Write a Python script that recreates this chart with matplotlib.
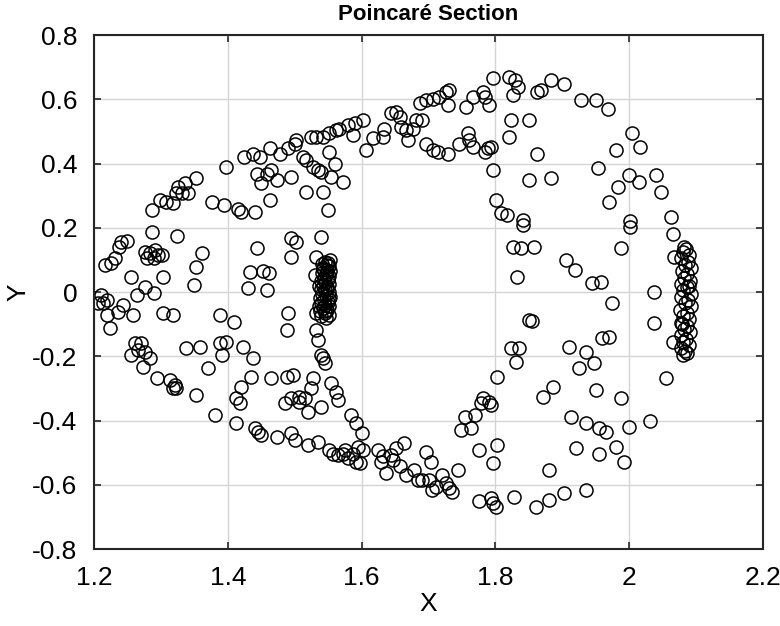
import matplotlib.pyplot as plt

# Poincare section points (scattered part of the orbit)
x_pts = [
    1.286, 1.324, 1.241, 1.249, 1.238, 1.276, 1.284, 1.291, 1.296, 1.301, 1.289, 1.279,
    1.361, 1.352, 1.350, 1.216, 1.226, 1.231, 1.256, 1.303, 1.276, 1.289, 1.264,
    1.211, 1.219, 1.214, 1.206, 1.244, 1.236, 1.219, 1.224, 1.259, 1.303, 1.318,
    1.388, 1.410, 1.261, 1.271, 1.266, 1.256, 1.276, 1.284, 1.274, 1.294,
    1.313, 1.321, 1.318, 1.323, 1.352, 1.338, 1.358, 1.371, 1.388, 1.398, 1.391,
    1.423, 1.438, 1.435, 1.420, 1.413, 1.443, 1.433, 1.430,
    1.397, 1.425, 1.438, 1.448, 1.443, 1.450, 1.353, 1.326, 1.336, 1.341, 1.331, 1.323,
    1.299, 1.308, 1.318, 1.286, 1.376, 1.395, 1.415, 1.420, 1.440,
    1.463, 1.465, 1.458, 1.473, 1.463, 1.478, 1.494, 1.517, 1.542, 1.550,
    1.490, 1.502, 1.500, 1.525, 1.532, 1.542, 1.552, 1.562, 1.567, 1.580, 1.590, 1.602,
    1.512, 1.517, 1.527, 1.535, 1.540, 1.552, 1.560, 1.555, 1.572,
    1.587, 1.607, 1.617, 1.632, 1.634, 1.644, 1.652, 1.657, 1.659, 1.667, 1.669, 1.677,
    1.682, 1.691, 1.687, 1.697, 1.707, 1.697, 1.707,
    1.716, 1.726, 1.731, 1.729, 1.756, 1.766, 1.781, 1.784, 1.791, 1.796, 1.821, 1.829,
    1.834, 1.826, 1.863, 1.868, 1.883, 1.903, 1.928, 1.950,
    1.714, 1.729, 1.746, 1.759, 1.761, 1.766, 1.784, 1.789, 1.794,
    1.823, 1.851, 1.821, 1.863, 1.796, 1.851, 1.883, 1.953, 1.801, 1.808, 1.818, 1.841,
    1.968, 2.005, 2.017, 1.980, 2.000, 2.015, 2.040, 2.047, 1.983, 1.970, 2.062,
    1.452, 1.462, 1.458, 1.495, 1.502, 1.495, 1.540, 1.532, 1.530, 1.490, 1.488,
    1.532, 1.532, 1.535, 1.540, 1.545, 1.542, 1.465, 1.488, 1.497, 1.527, 1.525,
    1.555, 1.562, 1.495, 1.507, 1.515,
    1.841, 1.826, 1.838, 1.858, 1.833, 1.906, 1.919, 1.945, 1.958, 1.851, 1.855,
    1.823, 1.836, 1.831, 1.803, 1.781, 1.791, 1.910, 1.935, 1.948, 1.925, 1.950,
    1.886, 1.871, 1.960,
    2.002, 2.002, 2.065, 1.988, 1.975, 2.037, 2.037, 1.970, 2.055, 1.988, 2.065, 2.067,
    1.381, 1.418, 1.413, 1.440, 1.445, 1.450,
    1.473, 1.495, 1.500, 1.520, 1.535, 1.552, 1.557, 1.565, 1.572, 1.575, 1.580, 1.587,
    1.592, 1.597, 1.594, 1.485, 1.507, 1.520, 1.540, 1.565, 1.585, 1.592, 1.600,
    1.602, 1.624, 1.629, 1.637, 1.644, 1.652, 1.664, 1.657, 1.667, 1.679, 1.684, 1.691,
    1.696, 1.704, 1.706, 1.632, 1.647,
    1.779, 1.793, 1.754, 1.769, 1.749, 1.764, 1.721, 1.711, 1.726, 1.731, 1.736, 1.744,
    1.701, 1.776, 1.803, 1.796, 1.776, 1.793, 1.796, 1.801, 1.828, 1.861, 1.881, 1.903,
    1.935, 1.881, 1.913, 1.935, 1.955, 1.920, 1.955,
    1.965, 1.980, 1.993, 2.000, 2.032,
]
y_pts = [
    0.188, 0.175, 0.156, 0.159, 0.141, 0.125, 0.120, 0.131, 0.115, 0.115, 0.105, 0.105,
    0.123, 0.079, 0.022, 0.084, 0.089, 0.105, 0.048, 0.048, 0.017, -0.004, -0.009,
    -0.009, -0.025, -0.035, -0.035, -0.040, -0.061, -0.072, -0.113, -0.072, -0.066, -0.072,
    -0.072, -0.092, -0.160, -0.160, -0.180, -0.196, -0.186, -0.206, -0.232, -0.268,
    -0.274, -0.289, -0.300, -0.300, -0.320, -0.175, -0.170, -0.237, -0.160, -0.155, -0.196,
    -0.170, -0.206, -0.263, -0.295, -0.331, 0.136, 0.063, 0.012,
    0.390, 0.421, 0.431, 0.421, 0.369, 0.338, 0.354, 0.328, 0.338, 0.307, 0.307, 0.307,
    0.286, 0.281, 0.276, 0.255, 0.281, 0.271, 0.260, 0.250, 0.250,
    0.447, 0.379, 0.369, 0.348, 0.286, 0.431, 0.358, 0.311, 0.311, 0.255,
    0.447, 0.473, 0.462, 0.483, 0.483, 0.483, 0.494, 0.504, 0.509, 0.519, 0.525, 0.535,
    0.421, 0.410, 0.390, 0.379, 0.374, 0.436, 0.400, 0.358, 0.343,
    0.488, 0.442, 0.478, 0.483, 0.509, 0.556, 0.561, 0.545, 0.514, 0.504, 0.473, 0.509,
    0.535, 0.535, 0.587, 0.597, 0.602, 0.462, 0.442,
    0.608, 0.624, 0.630, 0.582, 0.576, 0.608, 0.624, 0.608, 0.582, 0.665, 0.670, 0.660,
    0.639, 0.613, 0.624, 0.630, 0.660, 0.649, 0.597, 0.597,
    0.436, 0.431, 0.462, 0.494, 0.473, 0.452, 0.436, 0.447, 0.452,
    0.535, 0.535, 0.483, 0.431, 0.379, 0.348, 0.354, 0.385, 0.286, 0.245, 0.240, 0.224,
    0.571, 0.494, 0.452, 0.442, 0.364, 0.343, 0.364, 0.311, 0.328, 0.281, 0.234,
    0.065, 0.060, 0.006, 0.167, 0.156, 0.110, 0.172, 0.110, 0.053, -0.066, -0.118,
    -0.066, -0.118, -0.149, -0.196, -0.222, -0.206, -0.268, -0.263, -0.258, -0.268, -0.300,
    -0.284, -0.310, -0.331, -0.326, -0.331,
    0.208, 0.141, 0.136, 0.141, 0.048, 0.100, 0.068, 0.027, 0.032, -0.087, -0.090,
    -0.175, -0.175, -0.217, -0.263, -0.331, -0.341, -0.170, -0.186, -0.222, -0.237, -0.305,
    -0.295, -0.326, -0.144,
    0.222, 0.203, 0.182, 0.136, -0.035, 0.001, -0.097, -0.139, -0.268, -0.331, -0.155, 0.110,
    -0.383, -0.346, -0.408, -0.424, -0.435, -0.445,
    -0.450, -0.440, -0.461, -0.476, -0.466, -0.492, -0.503, -0.508, -0.503, -0.492, -0.518, -0.503,
    -0.528, -0.533, -0.481, -0.346, -0.341, -0.372, -0.357, -0.336, -0.383, -0.408, -0.439,
    -0.492, -0.492, -0.528, -0.564, -0.507, -0.486, -0.470, -0.543, -0.570, -0.554, -0.585, -0.585,
    -0.497, -0.528, -0.616, -0.512, -0.523,
    -0.346, -0.352, -0.388, -0.383, -0.429, -0.424, -0.570, -0.606, -0.596, -0.611, -0.622, -0.554,
    -0.585, -0.492, -0.476, -0.533, -0.652, -0.641, -0.657, -0.668, -0.637, -0.668, -0.647, -0.627,
    -0.616, -0.554, -0.388, -0.408, -0.424, -0.486, -0.503,
    -0.435, -0.481, -0.528, -0.419, -0.403,
]

# dense column near x = 1.545
x_left = [1.545, 1.550, 1.548, 1.552, 1.543, 1.549, 1.553, 1.541, 1.547, 1.551, 1.544, 1.550,
          1.540, 1.546, 1.552, 1.543, 1.549, 1.539, 1.545, 1.551, 1.541, 1.547, 1.553, 1.538,
          1.544, 1.550, 1.540, 1.546, 1.552, 1.542, 1.548, 1.538, 1.545, 1.551, 1.540, 1.547,
          1.553, 1.541, 1.537, 1.536, 1.548, 1.544, 1.551, 1.546, 1.549, 1.543]
y_left = [0.095, 0.090, 0.085, 0.080, 0.075, 0.070, 0.065, 0.060, 0.055, 0.050, 0.045, 0.040,
          0.035, 0.030, 0.025, 0.020, 0.015, 0.010, 0.005, 0.000, -0.005, -0.010, -0.015, -0.020,
          -0.025, -0.030, -0.035, -0.040, -0.045, -0.050, -0.055, -0.060, -0.065, -0.070, -0.075, -0.080,
          0.100, 0.088, -0.045, 0.020, 0.062, 0.038, -0.022, -0.058, 0.008, 0.072]

# dense column near x = 2.085
x_right = [2.085, 2.080, 2.090, 2.078, 2.088, 2.083, 2.092, 2.079, 2.087, 2.082, 2.091, 2.077,
           2.086, 2.081, 2.093, 2.078, 2.088, 2.083, 2.092, 2.076, 2.086, 2.081, 2.090, 2.078,
           2.087, 2.082, 2.091, 2.077, 2.085, 2.080, 2.089, 2.078, 2.084, 2.080, 2.086, 2.082,
           2.089, 2.079]
y_right = [0.135, 0.125, 0.115, 0.105, 0.095, 0.085, 0.075, 0.065, 0.055, 0.045, 0.035, 0.025,
           0.015, 0.005, -0.005, -0.015, -0.025, -0.035, -0.045, -0.055, -0.065, -0.075, -0.085, -0.095,
           -0.105, -0.115, -0.125, -0.135, -0.145, -0.155, -0.165, -0.175, -0.185, -0.195, -0.190, 0.140,
           0.020, -0.100]

x_ticks = [1.2, 1.4, 1.6, 1.8, 2.0, 2.2]
x_ticklabels = ["1.2", "1.4", "1.6", "1.8", "2", "2.2"]
y_ticks = [-0.8, -0.6, -0.4, -0.2, 0, 0.2, 0.4, 0.6, 0.8]
y_ticklabels = ["-0.8", "-0.6", "-0.4", "-0.2", "0", "0.2", "0.4", "0.6", "0.8"]

plt.rcParams['font.family'] = ['Liberation Sans', 'DejaVu Sans']

fig = plt.figure(figsize=(7.8, 6.26), dpi=100)
ax = fig.add_axes([0.1205, 0.123, 0.8575, 0.821])

style = dict(linestyle='none', marker='o', markersize=9.4, markerfacecolor='none',
             markeredgecolor='black', markeredgewidth=1.1)
ax.plot(x_pts, y_pts, **style)
ax.plot(x_left, y_left, **style)
ax.plot(x_right, y_right, **style)

ax.set_xlim(1.2, 2.2)
ax.set_ylim(-0.8, 0.8)
ax.set_xticks(x_ticks)
ax.set_xticklabels(x_ticklabels)
ax.set_yticks(y_ticks)
ax.set_yticklabels(y_ticklabels)
ax.grid(True, color='#d4d4d4', linewidth=1.0)
ax.set_axisbelow(True)
ax.tick_params(direction='in', length=5, width=1.2, colors='#262626', labelsize=19,
               top=True, right=True, labelcolor='black')
ax.tick_params(axis='x', pad=12)
ax.tick_params(axis='y', pad=12)
for s in ax.spines.values():
    s.set_color('#262626')
    s.set_linewidth(1.5)

ax.set_title("Poincaré Section", fontsize=16, fontweight='bold', pad=11)
ax.set_xlabel("X", fontsize=19, labelpad=2)
ax.set_ylabel("Y", fontsize=19, labelpad=1)

fig.savefig("out.png", dpi=100)
